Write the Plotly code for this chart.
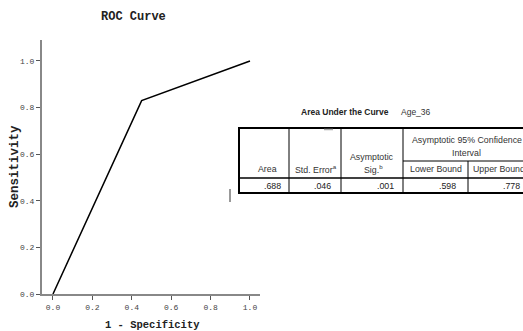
import plotly.graph_objects as go

# ---- data ----
fpr = [0.0, 0.45, 1.0]
tpr = [0.0, 0.83, 1.0]
x_ticks = [0.0, 0.2, 0.4, 0.6, 0.8, 1.0]
y_ticks = [0.0, 0.2, 0.4, 0.6, 0.8, 1.0]
tick_text = ["0.0", "0.2", "0.4", "0.6", "0.8", "1.0"]

auc_title = "Area Under the Curve"
auc_var = "Age_36"
auc_headers = ["Area", "Std. Error<sup>a</sup>", "Asymptotic", "Sig.<sup>b</sup>",
               "Asymptotic 95% Confidence", "Interval", "Lower Bound", "Upper Bound"]
auc_values = [".688", ".046", ".001", ".598", ".778"]

W, H = 523, 331


def px(x):
    return x / W


def py(y):
    return 1 - y / H


fig = go.Figure()
fig.add_trace(go.Scatter(x=fpr, y=tpr, mode="lines",
                         line=dict(color="black", width=1.5), showlegend=False,
                         hoverinfo="skip"))

mono = "Liberation Mono, Courier New, monospace"
sans = "Liberation Sans, Arial, sans-serif"

fig.update_layout(
    width=W, height=H,
    margin=dict(l=0, r=0, t=0, b=0, pad=0),
    paper_bgcolor="white", plot_bgcolor="white",
    xaxis=dict(domain=[px(42), px(260)], range=[-0.0558, 1.0508], automargin=False,
               tickvals=x_ticks, ticktext=tick_text, ticks="outside", ticklen=4,
               tickcolor="#555", showline=True, linecolor="#888", linewidth=2,
               showgrid=False, zeroline=False,
               tickfont=dict(family=mono, size=8, color="#444")),
    yaxis=dict(domain=[py(294), py(40)], range=[0, 1.09], automargin=False,
               tickvals=y_ticks, ticktext=tick_text, ticks="outside", ticklen=4,
               tickcolor="#555", showline=True, linecolor="#888", linewidth=2,
               showgrid=False, zeroline=False,
               tickfont=dict(family=mono, size=8, color="#444")),
)


def ann(text, x, y, font, xanchor="center", **kw):
    return dict(text=text, x=px(x), y=py(y), xref="paper", yref="paper",
                xanchor=xanchor, yanchor="middle", showarrow=False, font=font, **kw)


annotations = []
annotations.append(ann("<b>ROC Curve</b>", 133, 17, dict(family=mono, size=12, color="#222")))
annotations.append(ann("<b>1 - Specificity</b>", 152, 325, dict(family=mono, size=10.5, color="#222")))
annotations.append(ann("<b>Sensitivity</b>", 15, 167, dict(family=mono, size=12.5, color="#222"),
                       textangle=-90))

# table title
annotations.append(ann("<b>" + auc_title + "</b>", 345, 112, dict(family=sans, size=8.5, color="#222")))
annotations.append(ann(auc_var, 416, 112, dict(family=sans, size=8.5, color="#333")))

hdr_pos = [(267, 169), (316, 169), (372, 157), (373, 169), (467, 140), (466, 153), (436, 169), (499, 169)]
for t, (x, y) in zip(auc_headers, hdr_pos):
    annotations.append(ann(t, x, y, dict(family=sans, size=8.8, color="#333")))

val_right = [283, 333, 396, 458, 522]
for t, x in zip(auc_values, val_right):
    annotations.append(ann(t, x, 186, dict(family=sans, size=8.8, color="#222"), xanchor="right"))

shapes = []
# outer border
shapes.append(dict(type="rect", xref="paper", yref="paper", x0=px(239), x1=px(530), y0=py(193), y1=py(128),
                   line=dict(color="black", width=2)))
# row separator
shapes.append(dict(type="line", xref="paper", yref="paper", x0=px(239), x1=px(523), y0=py(178), y1=py(178),
                   line=dict(color="black", width=1.5)))
# sub header line
shapes.append(dict(type="line", xref="paper", yref="paper", x0=px(403), x1=px(523), y0=py(161), y1=py(161),
                   line=dict(color="black", width=1)))
for cx in [289, 341, 403]:
    shapes.append(dict(type="line", xref="paper", yref="paper", x0=px(cx), x1=px(cx), y0=py(193), y1=py(128),
                       line=dict(color="black", width=1)))
shapes.append(dict(type="line", xref="paper", yref="paper", x0=px(468), x1=px(468), y0=py(193), y1=py(161),
                   line=dict(color="black", width=1)))
# small artifacts
shapes.append(dict(type="line", xref="paper", yref="paper", x0=px(230), x1=px(230), y0=py(202), y1=py(189),
                   line=dict(color="#777", width=1.5)))
shapes.append(dict(type="line", xref="paper", yref="paper", x0=px(324), x1=px(333), y0=py(129.5), y1=py(129.5),
                   line=dict(color="#aaa", width=1.5)))

fig.update_layout(annotations=annotations, shapes=shapes)
fig.write_html("out.html", config={"displayModeBar": False},
               post_script="document.body.style.margin='0px';document.body.style.overflow='hidden';")
